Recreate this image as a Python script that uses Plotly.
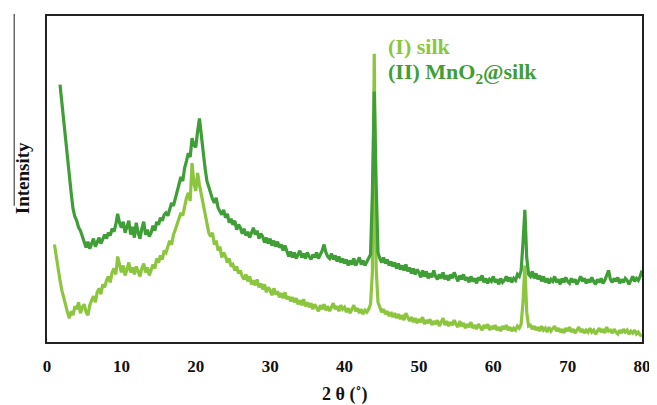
import plotly.graph_objects as go

# 2-theta grid (degrees), 0.25 deg steps from 1 to 80
two_theta = [1.0 + 0.25 * i for i in range(317)]

# (I) silk - relative intensity (a.u.), four values per degree
silk = [
    98, 85, 72, 62,  52, 44, 38, 30,  24, 31, 27, 36,  33, 40, 29, 35,      # 1-4
    38, 30, 27, 37,  42, 46, 40, 50,  54, 48, 58, 55,  62, 66, 60, 70,      # 5-8
    74, 68, 86, 76,  70, 77, 67, 73,  80, 70, 75, 68,  76, 71, 66, 74,      # 9-12
    79, 70, 75, 67,  72, 78, 74, 84,  80, 87, 83, 92,  90, 97, 102, 98,     # 13-16
    108, 113, 118, 125,  130, 127, 138, 145,  150, 142, 180, 160,  152, 170, 158, 148,  # 17-20
    140, 126, 118, 110,  106, 110, 98, 102,  92, 96, 85, 90,  86, 80, 84, 76,  # 21-24
    78, 72, 76, 69,  72, 66, 63, 68,  61, 66, 58, 62,  57, 63, 55, 59,      # 25-28
    53, 58, 50, 55,  52, 47, 54, 48,  51, 45, 49, 44,  50, 43, 46, 41,      # 29-32
    45, 40, 44, 38,  42, 37, 43, 36,  40, 35, 39, 33,  38, 34, 31, 37,      # 33-36
    33, 38, 32, 36,  31, 35, 39, 33,  36, 31, 37, 33,  35, 30, 34, 29,      # 37-40
    33, 37, 31, 34,  29, 33, 28, 32,  30, 33, 38, 70,  290, 75, 40, 34,     # 41-44
    30, 33, 28, 31,  26, 30, 25, 29,  24, 28, 23, 27,  22, 29, 24, 21,      # 45-48
    25, 20, 24, 19,  23, 20, 25, 18,  22, 19, 23, 17,  21, 18, 22, 16,      # 49-52
    20, 24, 17, 21,  16, 20, 17, 22,  18, 15, 21, 16,  19, 14, 18, 15,      # 53-56
    20, 14, 17, 13,  18, 15, 12, 17,  14, 18, 12, 16,  13, 17, 12, 15,      # 57-60
    11, 16, 13, 17,  12, 15, 11, 14,  12, 16, 14, 18,  40, 77, 30, 16,      # 61-64
    17, 13, 16, 12,  15, 11, 16, 12,  14, 10, 15, 11,  13, 16, 11, 14,      # 65-68
    10, 13, 9, 14,  11, 15, 10, 13,  9, 12, 15, 10,  13, 9, 12, 10,         # 69-72
    14, 10, 12, 8,  11, 14, 10, 13,  9, 15, 11, 12,  9, 13, 10, 8,          # 73-76
    12, 9, 13, 10,  12, 8, 11, 9,  12, 8, 10, 7,                            # 77-79
    6,                                                                       # 80
]

# (II) MnO2@silk - relative intensity (a.u.); no data below 1.75 deg
mno2_silk = [
    None, None, None, 259,  240, 222, 205, 180,  165, 150, 134, 126,  122, 115, 112, 106,   # 1-4
    100, 95, 101, 94,  99, 104, 96, 101,  105, 99, 103, 108,  104, 110, 107, 114,          # 5-8
    111, 118, 129, 120,  115, 121, 110, 117,  122, 108, 116, 105,  120, 110, 104, 114,     # 9-12
    121, 108, 113, 106,  110, 117, 112, 121,  118, 125, 122, 128,  130, 127, 135, 140,     # 13-16
    137, 145, 150, 158,  166, 162, 175, 182,  190, 186, 205, 198,  196, 212, 225, 208,     # 17-20
    190, 175, 162, 155,  150, 144, 140, 145,  135, 132, 128, 133,  125, 129, 120, 124,     # 21-24
    118, 122, 113, 118,  115, 109, 114, 107,  111, 105, 110, 115,  108, 112, 104, 109,     # 25-28
    106, 100, 105, 99,  104, 97, 102, 96,  101, 95, 98, 92,  97, 90, 86, 91,               # 29-32
    85, 90, 84, 88,  92, 85, 89, 84,  90, 86, 83, 88,  85, 90, 84, 88,                     # 33-36
    92, 98, 90, 86,  84, 89, 83, 87,  81, 86, 80, 84,  79, 83, 77, 82,                     # 37-40
    78, 84, 77, 81,  85, 78, 82, 77,  81, 84, 88, 150,  252, 160, 90, 84,                  # 41-44
    80, 85, 79, 83,  77, 81, 76, 80,  74, 79, 73, 77,  72, 78, 71, 75,                     # 45-48
    69, 74, 68, 73,  70, 65, 72, 66,  71, 64, 69, 65,  72, 66, 63, 68,                     # 49-52
    64, 70, 63, 67,  62, 68, 64, 70,  65, 61, 67, 63,  68, 62, 65, 60,                     # 53-56
    66, 61, 64, 59,  65, 62, 67, 60,  64, 59, 63, 61,  66, 60, 63, 58,                     # 57-60
    64, 60, 62, 66,  61, 65, 60, 64,  62, 68, 66, 72,  100, 133, 85, 68,                   # 61-64
    66, 71, 64, 69,  63, 67, 61, 66,  60, 64, 59, 63,  61, 66, 60, 63,                     # 65-68
    58, 64, 60, 65,  61, 59, 64, 60,  63, 58, 62, 66,  61, 64, 59, 63,                     # 69-72
    60, 65, 61, 58,  63, 60, 64, 59,  62, 67, 72, 63,  60, 64, 61, 65,                     # 73-76
    59, 63, 60, 64,  62, 58, 63, 66,  61, 64, 62, 66,                                      # 77-79
    72,                                                                                     # 80
]

x_ticks = [0, 10, 20, 30, 40, 50, 60, 70, 80]

LIGHT = "#8cc63e"
DARK = "#3f9e36"
FONT = "Liberation Serif"

# page body has an 8px margin; figure is sized so the plot box lands at
# page pixels x 47..646, y 14..342
BODY = 8
W, H = 657 - BODY, 405 - BODY
L, R, T, B = 47, 646, 14, 342


def px_x(p):
    return (p - L) / (R - L)


def px_y(p):
    return (B - p) / (B - T)


fig = go.Figure()
fig.add_trace(go.Scatter(x=two_theta, y=silk, mode="lines",
                         line=dict(color=LIGHT, width=3.2), name="(I) silk"))
fig.add_trace(go.Scatter(x=two_theta, y=mno2_silk, mode="lines",
                         line=dict(color=DARK, width=3.2), name="(II) MnO2@silk",
                         connectgaps=False))

fig.update_layout(
    width=W, height=H,
    margin=dict(l=L - BODY, r=657 - R, t=T - BODY, b=405 - B),
    paper_bgcolor="white", plot_bgcolor="white",
    showlegend=False,
    font=dict(family=FONT, color="#111"),
)
fig.update_xaxes(range=[0, 80], tickvals=x_ticks,
                 ticktext=[f"<b>{v}</b>" for v in x_ticks],
                 tickfont=dict(size=17, family=FONT, color="#111"),
                 showline=True, linecolor="#222", linewidth=1.5, mirror=True,
                 showgrid=False, zeroline=False, ticks="",
                 ticklabelstandoff=8)
fig.update_yaxes(range=[0, 328], showticklabels=False,
                 showline=True, linecolor="#222", linewidth=1.5, mirror=True,
                 showgrid=False, zeroline=False, ticks="")

# axis titles
fig.add_annotation(text="<b>2 θ (˚)</b>", xref="paper", yref="paper",
                   x=px_x(346), y=px_y(395), showarrow=False,
                   font=dict(size=18, family=FONT, color="#111"),
                   xanchor="center", yanchor="middle")
fig.add_annotation(text="<b>Intensity</b>", xref="paper", yref="paper",
                   x=px_x(22), y=px_y(177), showarrow=False, textangle=-90,
                   font=dict(size=19, family=FONT, color="#111"),
                   xanchor="center", yanchor="middle")
fig.add_shape(type="line", xref="paper", yref="paper",
              x0=px_x(14), x1=px_x(14), y0=px_y(12), y1=px_y(205),
              line=dict(color="#444", width=1.2))

# legend texts
fig.add_annotation(text="<b>(I) silk</b>", xref="paper", yref="paper",
                   x=px_x(388), y=px_y(45), showarrow=False,
                   font=dict(size=22, family=FONT, color=LIGHT),
                   xanchor="left", yanchor="middle")
fig.add_annotation(text="<b>(II) MnO<sub>2</sub>@silk</b>", xref="paper", yref="paper",
                   x=px_x(388), y=px_y(71), showarrow=False,
                   font=dict(size=22, family=FONT, color=DARK),
                   xanchor="left", yanchor="middle")

fig.write_html("out.html")
